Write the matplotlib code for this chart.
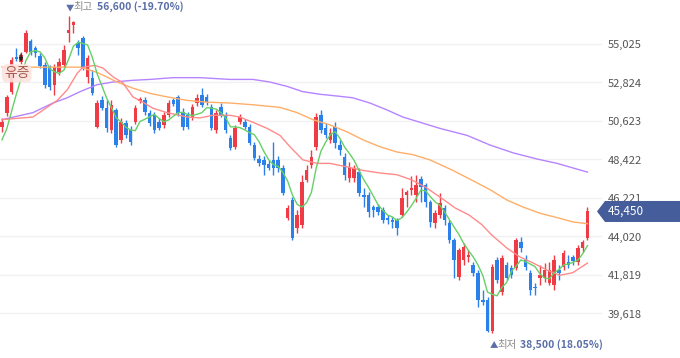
import numpy as np
import pandas as pd
import matplotlib
matplotlib.use("Agg")
import matplotlib.pyplot as plt
from matplotlib.patches import Polygon

plt.rcParams['font.family'] = ['Noto Sans CJK KR', 'DejaVu Sans']

# 일봉 데이터 (시가, 종가, 고가, 저가)
opens = [50300, 51100, 52300, 54300, 54000, 54550, 55200, 54800, 54350, 53800,
         53700, 52700, 53400, 53800, 55650, 56100, 55100, 55350, 53150, 53100,
         50300, 51800, 51350, 50100, 51250, 49550, 50500, 50100, 50550, 51750,
         51800, 51100, 50950, 50550, 50400, 50950, 51800, 52000, 51150, 50950,
         50800, 51650, 52100, 52000, 51400, 50100, 51400, 50950, 49650, 49150,
         50550, 50550, 50300, 49250, 48450, 48400, 48150, 48400, 48400, 47950,
         45100, 46100, 44500, 44700, 47250, 48100, 49150, 50950, 50200, 49550,
         50300, 49250, 48550, 47350, 47350, 47700, 46400, 46400, 45700, 45700,
         45550, 45100, 44950, 44950, 45250, 46400, 46700, 46400, 47300, 46950,
         46000, 44800, 45250, 45650, 44800, 43800, 41700, 42700, 42850, 42400,
         41950, 40400, 40400, 38600, 42700, 40850, 42400, 42200, 42200, 43700,
         42700, 41950, 41150, 41650, 41650, 41350, 41250, 42100, 42300, 42550,
         42850, 42550, 43350, 43950]
closes = [50550, 52000, 54100, 54150, 54400, 55650, 54550, 54500, 53750, 52700,
          52550, 53700, 54000, 54700, 55800, 56300, 54800, 53700, 54200, 52200,
          51650, 51350, 50200, 51550, 49250, 50550, 49800, 49400, 51350, 51900,
          51150, 50500, 50100, 50200, 50950, 51650, 51600, 51100, 50300, 50300,
          51400, 51950, 51550, 51700, 50200, 51100, 50950, 50100, 49100, 50200,
          50850, 50300, 49350, 48500, 48200, 48100, 47950, 47950, 47950, 46500,
          45650, 43950, 45250, 47150, 47800, 48550, 50850, 50100, 49800, 49950,
          49350, 48950, 47550, 48000, 47950, 46500, 46300, 45400, 45550, 45400,
          44950, 44950, 44850, 44500, 46200, 46550, 46800, 46950, 46850, 46000,
          44850, 45350, 45950, 44950, 43800, 42700, 43250, 43400, 42950, 41950,
          40400, 40300, 38600, 42300, 41550, 42800, 41650, 41800, 43800, 43350,
          42300, 40950, 41050, 41800, 42100, 42100, 42700, 41950, 43100, 42400,
          42600, 43350, 43700, 45450]
highs = [50800, 52100, 54300, 54800, 54550, 55800, 55300, 54900, 54500, 54000,
         53800, 53900, 54200, 54950, 56600, 56350, 55250, 55500, 54400, 53550,
         51800, 52050, 51800, 51800, 51350, 50800, 50700, 50350, 51550, 52000,
         52000, 51250, 51150, 50800, 51150, 51800, 51950, 52100, 51350, 51150,
         51600, 52150, 52500, 52150, 51600, 51250, 51650, 51150, 49800, 50400,
         51000, 50750, 50450, 49400, 48700, 48650, 48400, 49400, 48650, 48100,
         45800, 46300, 45550, 47550, 48100, 48950, 51100, 51250, 50500, 50200,
         50550, 49550, 48800, 48300, 48100, 47950, 46800, 46550, 45800, 45900,
         45700, 45250, 45150, 45100, 46800, 46700, 47450, 47550, 47450, 47100,
         46100, 45550, 46500, 45800, 44950, 43950, 43350, 43650, 43250, 42550,
         42100, 40950, 40550, 42450, 42850, 42950, 42550, 42400, 43950, 44000,
         42950, 42100, 41350, 42400, 42500, 42550, 42950, 42400, 43250, 42950,
         42950, 43550, 43800, 45700]
lows = [50000, 50900, 52150, 54050, 53900, 54500, 54400, 54300, 53650, 52500,
        52400, 52100, 53250, 53650, 55150, 55650, 54400, 53550, 52800, 52100,
        50200, 51250, 50000, 49950, 49150, 49350, 49650, 49250, 50450, 51650,
        50950, 50350, 49950, 50100, 50200, 50850, 51500, 50900, 50100, 50150,
        50700, 51500, 51400, 51550, 50100, 49950, 50850, 49950, 48950, 49050,
        50450, 50150, 49250, 48400, 48050, 47550, 47800, 47550, 47700, 46400,
        44950, 43800, 44200, 44500, 47150, 47950, 48950, 49950, 49650, 49350,
        49100, 48700, 47250, 47150, 47150, 46350, 45700, 45150, 45150, 45250,
        44800, 44750, 44500, 44100, 45150, 45700, 46400, 46000, 46000, 45700,
        44550, 44500, 45100, 44700, 43650, 41650, 41550, 42400, 42550, 41750,
        40000, 40100, 38550, 38500, 41350, 40700, 41550, 41650, 42100, 43150,
        42100, 40700, 40700, 41250, 41400, 41250, 40950, 41550, 42100, 42200,
        42400, 42400, 43150, 43800]
prev_closes = [48900, 49100, 49300, 49900]   # 5일선 계산용 직전 종가

# 이동평균선 (차트에서 읽은 값: 봉 번호, 가격)
ma20_idx = [0, 6.5, 11.6, 13.7, 15.8, 17, 19.5, 21.2, 23.3, 25.4, 27.5, 29.6, 31.7,
            34.7, 38.9, 41.6, 44.3, 47.9, 49.9, 52.7, 55.7, 58.4, 60.5, 63.2, 66.2,
            68.9, 72.5, 75.8, 79.4, 83, 86.1, 88.9, 92.4, 95.2, 98.1, 100.8, 102.9,
            106.1, 108.8, 111.6, 114.5, 117.2, 119.9, 123]
ma20_val = [50700, 50850, 51800, 52400, 53350, 53700, 53800, 53650, 53150, 52800,
            52000, 51700, 51350, 51100, 50850, 50800, 50950, 50950, 50850, 50550,
            50200, 49800, 49150, 48400, 48200, 48200, 48000, 47800, 47650, 47550,
            47250, 46850, 46200, 45650, 45250, 44700, 44100, 43350, 42850, 42500,
            42100, 41800, 41950, 42500]
ma60_idx = [0, 16.4, 20, 24.2, 27.5, 31.1, 34.7, 38.9, 43.1, 47.9, 52.7, 58.4, 62,
            65.3, 68.9, 72.5, 75.8, 79.4, 83, 86.3, 89.9, 94.7, 99, 102.5, 106.1,
            109.5, 113, 116.6, 120, 123]
ma60_val = [53700, 53700, 53400, 52850, 52500, 52200, 52000, 51800, 51700, 51650,
            51550, 51400, 51100, 50700, 50400, 50000, 49550, 49150, 48850, 48700,
            48400, 47800, 47200, 46700, 46100, 45700, 45350, 45100, 44850, 44750]
ma120_idx = [0, 6.5, 10.7, 13.7, 16.4, 20, 23.3, 27.5, 31.1, 35.9, 41.6, 47.9, 52.7,
             56.3, 59.9, 63.2, 66.8, 70.4, 73.7, 77.3, 80.9, 84.2, 87.8, 92, 97.7,
             102.5, 107.4, 112.4, 116.6, 123]
ma120_val = [50700, 51100, 51650, 51950, 52300, 52700, 52850, 52950, 53000, 53100,
             53100, 53000, 53000, 52850, 52600, 52300, 52150, 52050, 51950, 51650,
             51250, 50850, 50550, 50200, 49800, 49250, 48800, 48450, 48200, 47700]

y_ticks = [39618, 41819, 44020, 46221, 48422, 50623, 52824, 55025]
event_idx = 4          # 유상증자 표시 위치
event_label = '유증'

RED = '#ee3b45'
BLUE = '#2c80ea'

fig = plt.figure(figsize=(6.8, 3.58), dpi=100)
ax = fig.add_axes([0, 0, 602 / 680, 1])

n = len(closes)
x = np.arange(n)
o = np.array(opens)
c = np.array(closes)
h = np.array(highs)
l = np.array(lows)
up = c >= o
colors = np.where(up, RED, BLUE)

# 격자
for t in y_ticks:
    ax.axhline(t, color='#f1f1f4', lw=1.0, zorder=0)

# 캔들
ax.vlines(x, l, h, colors=colors, lw=1.0, zorder=2)
body = np.maximum(np.abs(c - o), 45)
ax.bar(x, body, bottom=np.minimum(o, c), width=0.74, color=colors, lw=0, zorder=2)

# 이동평균선
ma5 = pd.Series(prev_closes + closes).rolling(5).mean().values[len(prev_closes):]
ax.plot(ma120_idx, ma120_val, color='#b684ff', lw=1.0, zorder=3)
ax.plot(ma60_idx, ma60_val, color='#ffae68', lw=1.0, zorder=3)
ax.plot(ma20_idx, ma20_val, color='#ff8b8b', lw=1.0, zorder=3)
ax.plot(x, ma5, color='#66d066', lw=1.0, zorder=3)

ax.set_xlim(-0.42, 126.05)
ax.set_ylim(37073, 57540)

ax.yaxis.tick_right()
ax.set_yticks(y_ticks)
ax.set_yticklabels([f'{v:,}' for v in y_ticks], fontsize=8, color='#555555')
ax.tick_params(axis='y', length=0, pad=4)
ax.set_xticks([])
for s in ax.spines.values():
    s.set_visible(False)

# 최고/최저 표시
hi_i = int(np.argmax(h))
lo_i = int(np.argmin(l))
last = closes[-1]
hi_pct = (last - highs[hi_i]) / highs[hi_i] * 100
lo_pct = (last - lows[lo_i]) / lows[lo_i] * 100
lab_col = '#5b6fa8'
ax.text(hi_i - 0.6, 56850, '▼', fontsize=6, color=lab_col, ha='left', va='bottom')
ax.text(hi_i + 1.0, 56850, '최고', fontsize=7.5, color='#8a8a8a', ha='left', va='bottom')
ax.text(hi_i + 5.9, 56850, f'{highs[hi_i]:,} ({hi_pct:.2f}%)', fontsize=7.5,
        color=lab_col, fontweight='bold', ha='left', va='bottom')
ax.text(lo_i - 0.6, 37520, '▲', fontsize=6, color=lab_col, ha='left', va='bottom')
ax.text(lo_i + 1.0, 37520, '최저', fontsize=7.5, color='#8a8a8a', ha='left', va='bottom')
ax.text(lo_i + 5.9, 37520, f'{lows[lo_i]:,} ({lo_pct:.2f}%)', fontsize=7.5,
        color=lab_col, fontweight='bold', ha='left', va='bottom')

# 유증 이벤트
ax.annotate('', xy=(event_idx, highs[event_idx] - 700), xytext=(event_idx, highs[event_idx] + 50),
            arrowprops=dict(arrowstyle='-|>', color='#222222', lw=1.0, mutation_scale=5),
            zorder=5)
ax.text(event_idx - 0.9, 53350, event_label, fontsize=10, color='#a8584d', ha='center',
        va='center', zorder=6,
        bbox=dict(boxstyle='round,pad=0.15,rounding_size=0.4', fc='#fbe4df', ec='none', alpha=0.9))

# 현재가 태그
fig.canvas.draw()
W, H = fig.get_size_inches() * fig.dpi
yd = ax.transData.transform((0, last))[1]
hh = 10.5
pts = [(597, yd), (605, yd + hh), (680, yd + hh), (680, yd - hh), (605, yd - hh)]
tag = Polygon([(px / W, py / H) for px, py in pts], closed=True, transform=fig.transFigure,
              fc='#465d9c', ec='none', zorder=10)
fig.patches.append(tag)
fig.text(608 / W, yd / H, f'{last:,}', fontsize=8.5, color='white', ha='left', va='center', zorder=11)

fig.savefig('out.png', dpi=100)
